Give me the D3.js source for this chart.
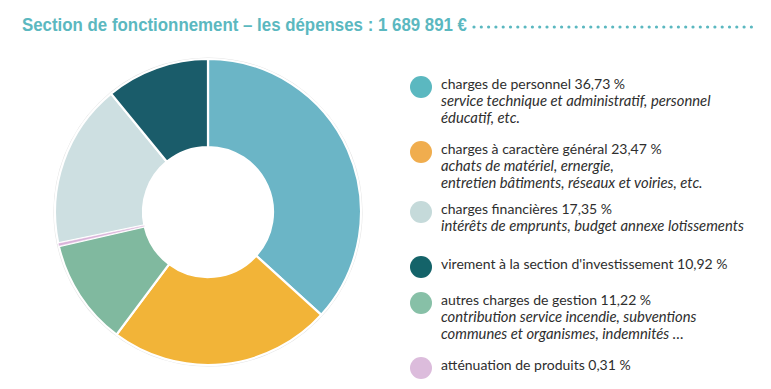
<!DOCTYPE html>
<html>
<head>
<meta charset="utf-8">
<script src="https://cdn.jsdelivr.net/npm/d3@7"></script>
<style>
  body { margin: 0; background: #fff; }
  svg text { font-family: Lato, "Open Sans", sans-serif; }
</style>
</head>
<body>
<div id="chart"></div>
<script>
// data, in clockwise order starting at 12 o'clock
var categories = ["charges de personnel", "charges à caractère général", "autres charges de gestion",
                  "atténuation de produits", "charges financières", "virement à la section d'investissement"];
var shares = [36.73, 23.47, 11.22, 0.31, 17.35, 10.92];
var sliceColors = ["#6bb5c6", "#f2b438", "#80b99f", "#d9b3d9", "#cddfe1", "#1a5c6a"];

// legend labels and detail lines (same order as categories)
var legendLabels = ["charges de personnel 36,73 %", "charges à caractère général 23,47 %", "autres charges de gestion 11,22 %",
                    "atténuation de produits 0,31 %", "charges financières 17,35 %", "virement à la section d'investissement 10,92 %"];
var legendDetails = [
  ["service technique et administratif, personnel", "éducatif, etc."],
  ["achats de matériel, ernergie,", "entretien bâtiments, réseaux et voiries, etc."],
  ["contribution service incendie, subventions", "communes et organismes, indemnités …"],
  [],
  ["intérêts de emprunts, budget annexe lotissements"],
  []
];
var legendDots = ["#5bb8c0", "#f0ad4e", "#87c0a7", "#dcbcdc", "#c5dada", "#146369"];
var legendY = [87, 152, 303, 368, 212, 267];

var title = "Section de fonctionnement – les dépenses : 1 689 891 €";

var width = 771, height = 389;
var svg = d3.select("#chart").append("svg")
    .attr("width", width)
    .attr("height", height);

// title + dotted rule
svg.append("text")
    .attr("x", 22)
    .attr("y", 31)
    .attr("textLength", 445)
    .attr("lengthAdjust", "spacingAndGlyphs")
    .style("font-family", "'Liberation Sans', Arial, sans-serif")
    .style("font-weight", "bold")
    .style("font-size", "18px")
    .style("fill", "#5bb8c0")
    .text(title);

svg.append("line")
    .attr("x1", 474).attr("x2", 758)
    .attr("y1", 27).attr("y2", 27)
    .attr("stroke", "#5bb8c0")
    .attr("stroke-width", 3.2)
    .attr("stroke-linecap", "round")
    .attr("stroke-dasharray", "0 7.3");

// donut
var cx = 208, cy = 212, outerR = 153, innerR = 65;
var g = svg.append("g").attr("transform", "translate(" + cx + "," + cy + ")");

g.append("circle")
    .attr("r", outerR + 1)
    .attr("fill", "none")
    .attr("stroke", "#e4e4e4")
    .attr("stroke-width", 1.2);

var pie = d3.pie().sort(null).value(function(d) { return d; });
var arc = d3.arc().innerRadius(innerR).outerRadius(outerR);

var slices = pie(shares).map(function(d, i) { d.idx = i; return d; });
// tiny slice drawn last with a thin edge so it stays visible
slices.sort(function(a, b) { return (a.value < 1) - (b.value < 1); });

g.selectAll("path")
    .data(slices)
    .enter().append("path")
      .attr("d", arc)
      .attr("fill", function(d) { return sliceColors[d.idx]; })
      .attr("stroke", "#fff")
      .attr("stroke-width", function(d) { return d.value < 1 ? 0.6 : 2.2; });

// legend
var legend = svg.append("g");
categories.forEach(function(c, idx) {
    var y = legendY[idx];
    legend.append("circle")
        .attr("cx", 421)
        .attr("cy", y)
        .attr("r", 11)
        .attr("fill", legendDots[idx]);
    legend.append("text")
        .attr("x", 441)
        .attr("y", y + 2)
        .style("font-size", "14px")
        .style("fill", "#2e2e2e")
        .text(legendLabels[idx]);
    legendDetails[idx].forEach(function(line, j) {
        legend.append("text")
            .attr("x", 441)
            .attr("y", y + 2 + 17 * (j + 1))
            .style("font-size", "14.8px")
            .style("font-style", "italic")
            .style("fill", "#2e2e2e")
            .text(line);
    });
});
</script>
</body>
</html>
